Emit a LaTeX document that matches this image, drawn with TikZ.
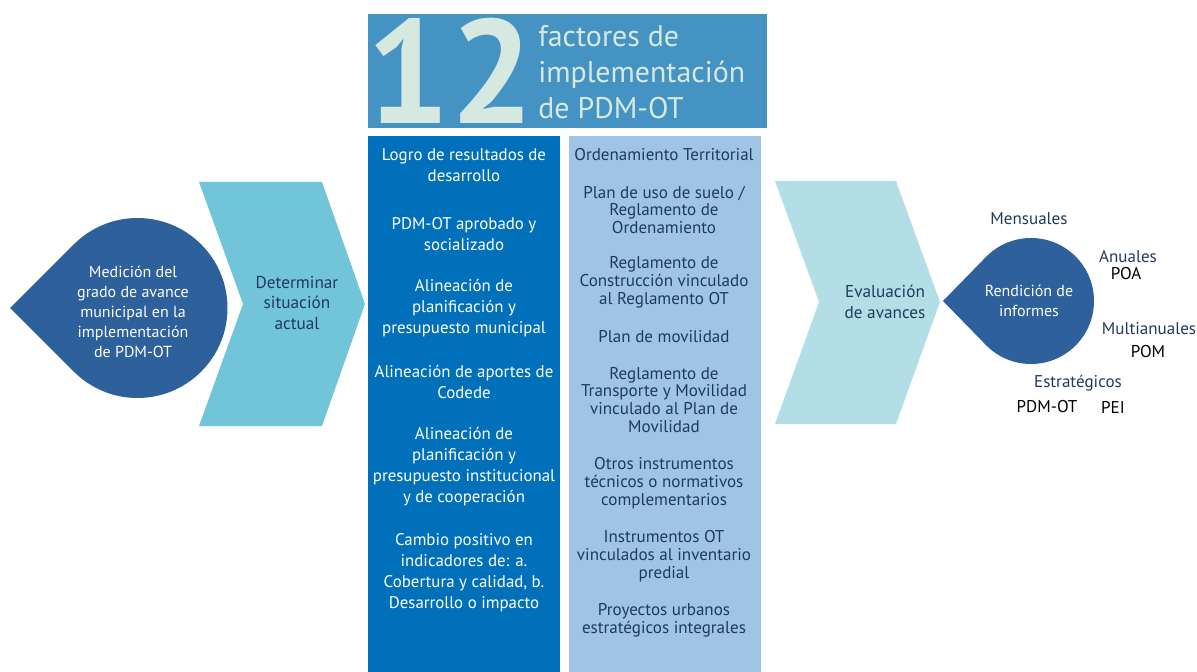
\documentclass[tikz,border=0pt]{standalone}
\usepackage{fontspec}
\setmainfont{PT Sans}
\usetikzlibrary{calc}
\definecolor{hdr}{HTML}{4493C3}
\definecolor{hdrtxt}{HTML}{D6E9E1}
\definecolor{colA}{HTML}{0070BA}
\definecolor{colB}{HTML}{A0C4E6}
\definecolor{drop}{HTML}{2E609C}
\definecolor{chevA}{HTML}{72C4D9}
\definecolor{chevB}{HTML}{B4DEE6}
\definecolor{navy}{HTML}{1F3A5F}
\begin{document}
\begin{tikzpicture}[x=0.02cm,y=-0.02cm,
  wtxt/.style={inner sep=0pt,align=center,text=white,font=\fontsize{9.6}{11.9}\selectfont},
  ntxt/.style={inner sep=0pt,align=center,text=navy,font=\fontsize{9.7}{10.2}\selectfont},
  side/.style={inner sep=0pt,align=center,text=navy,font=\fontsize{9.7}{10.2}\selectfont},
  blk/.style={inner sep=0pt,align=center,text=black,font=\fontsize{9.7}{10.2}\selectfont},
  bignavy/.style={inner sep=0pt,align=center,text=navy,font=\fontsize{9.8}{11.6}\selectfont},
  bigwhite/.style={inner sep=0pt,align=center,text=white,font=\fontsize{9.1}{11.4}\selectfont}]
\useasboundingbox (0,0) rectangle (1197,672);
% header
\fill[hdr] (368,14) rectangle (767,128);
\begin{scope}
\clip (368,14) rectangle (767,128);
\node[inner sep=0pt,anchor=base west,text=hdrtxt,text depth=0pt,font=\fontsize{84}{84}\bfseries\selectfont] (twelve) at (366,124) {12};
\end{scope}
\node[inner sep=0pt,anchor=west,align=left,text=hdrtxt,font=\fontsize{17}{20.4}\selectfont] (title) at (538,72) {factores de\\implementación\\de PDM-OT};
% columns
\fill[colA] (368,136) rectangle (560,672);
\fill[colB] (569,136) rectangle (761,672);
% left teardrop
\fill[drop] (10,308) -- ($(137.5,308)+(135:90)$) arc[start angle=135,end angle=-135,radius=90] -- cycle;
\node[bigwhite] (medicion) at (133,312) {Medición del\\grado de avance\\municipal en la\\implementación\\de PDM-OT};
% chevron 1
\fill[chevA] (199,182) -- (322,182) -- (365,304) -- (322,426) -- (199,426) -- (243,304) -- cycle;
\node[bignavy] (determinar) at (297,303) {Determinar\\situación\\actual};
% chevron 2
\fill[chevB] (775,181) -- (896,181) -- (940,302) -- (896,424) -- (775,424) -- (819,302) -- cycle;
\node[bignavy] (evaluacion) at (885,302) {Evaluación\\de avances};
% right teardrop
\fill[drop] (943,301) -- ($(1031,301)+(135:63)$) arc[start angle=135,end angle=-135,radius=63] -- cycle;
\node[bigwhite] (rendicion) at (1029,301) {Rendición de\\informes};
% side labels
\node[side] (mensuales) at (1029,219) {Mensuales};
\node[side] (anuales) at (1128,257) {Anuales};
\node[blk] (poa) at (1126,274) {POA};
\node[side] (multi) at (1149,329) {Multianuales};
\node[blk] (pom) at (1148,352) {POM};
\node[side] (estrategicos) at (1078,383) {Estratégicos};
\node[blk] (pdmot) at (1047,407) {PDM-OT};
\node[blk] (pei) at (1113,407) {PEI};
% left column texts
\node[wtxt] (l1) at (464,165.5) {Logro de resultados de\\desarrollo};
\node[wtxt] (l2) at (464,234.5) {PDM-OT aprobado y\\socializado};
\node[wtxt] (l3) at (464,308) {Alineación de\\planificación y\\presupuesto municipal};
\node[wtxt] (l4) at (464,382) {Alineación de aportes de\\Codede};
\node[wtxt] (l5) at (464,466.5) {Alineación de\\planificación y\\presupuesto institucional\\y de cooperación};
\node[wtxt] (l6) at (464,572.5) {Cambio positivo en\\indicadores de: a.\\Cobertura y calidad, b.\\Desarrollo o impacto};
% right column texts
\node[ntxt] (r1) at (664,155) {Ordenamiento Territorial};
\node[ntxt] (r2) at (664,210) {Plan de uso de suelo /\\Reglamento de\\Ordenamiento};
\node[ntxt] (r3) at (664,282) {Reglamento de\\Construcción vinculado\\al Reglamento OT};
\node[ntxt] (r4) at (664,337) {Plan de movilidad};
\node[ntxt] (r5) at (664,400) {Reglamento de\\Transporte y Movilidad\\vinculado al Plan de\\Movilidad};
\node[ntxt] (r6) at (664,483) {Otros instrumentos\\técnicos o normativos\\complementarios};
\node[ntxt] (r7) at (664,556) {Instrumentos OT\\vinculados al inventario\\predial};
\node[ntxt] (r8) at (664,620) {Proyectos urbanos\\estratégicos integrales};
\end{tikzpicture}
\end{document}
